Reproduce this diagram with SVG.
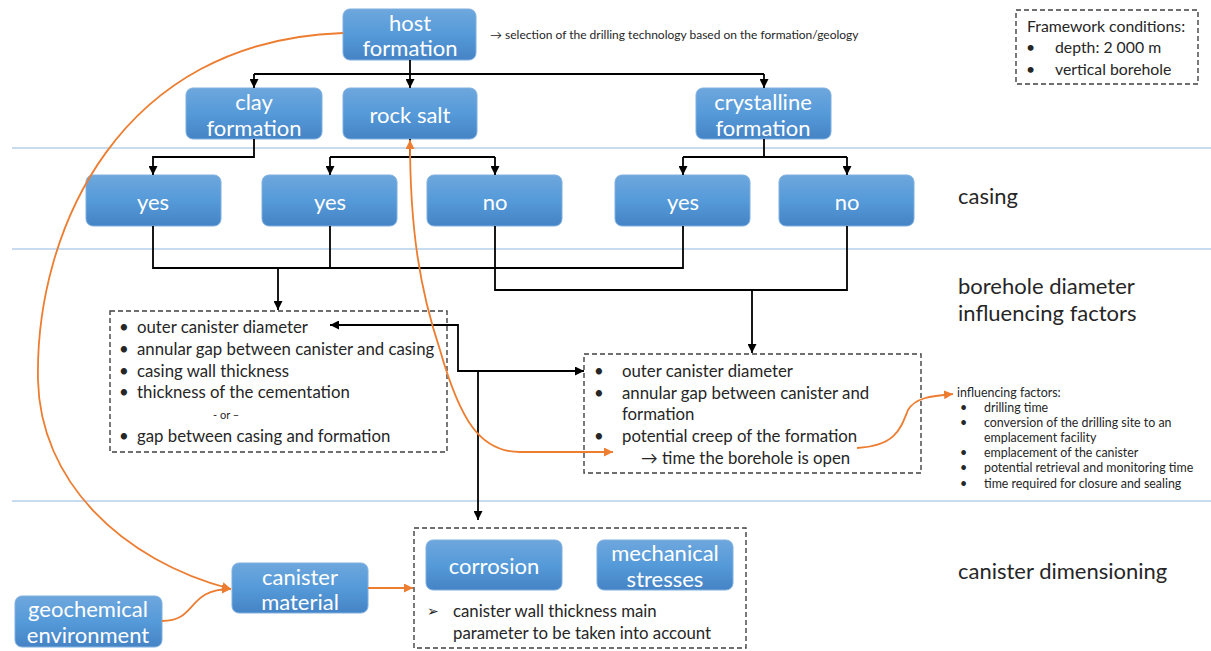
<svg xmlns="http://www.w3.org/2000/svg" width="1211" height="651" viewBox="0 0 1211 651">
<defs>
<linearGradient id="g" x1="0" y1="0" x2="0" y2="1">
<stop offset="0" stop-color="#6ea7dd"/>
<stop offset="0.5" stop-color="#559ad9"/>
<stop offset="1" stop-color="#4583c5"/>
</linearGradient>
<marker id="ab" viewBox="0 0 10 10" refX="10" refY="5" markerWidth="9" markerHeight="9" markerUnits="userSpaceOnUse" orient="auto-start-reverse"><path d="M0,0 L10,5 L0,10 z" fill="#000"/></marker>
<marker id="ao" viewBox="0 0 10 10" refX="10" refY="5" markerWidth="9" markerHeight="9" markerUnits="userSpaceOnUse" orient="auto-start-reverse"><path d="M0,0 L10,5 L0,10 z" fill="#ed7d31"/></marker>
</defs>
<style>
.n rect{fill:url(#g);stroke:#7fb0e0;stroke-width:1}
.n text{fill:#fff;font-family:Lato,"Liberation Sans",sans-serif;font-size:22px;text-anchor:middle;dominant-baseline:central}
.sep{stroke:#b7d0ea;stroke-width:1.3}
.c path{fill:none;stroke:#000;stroke-width:1.8}
.o path{fill:none;stroke:#ed7d31;stroke-width:1.8}
.d{fill:none;stroke:#404040;stroke-width:1.4;stroke-dasharray:5 3}
.t{font-family:Lato,"Liberation Sans",sans-serif;font-size:16.8px;fill:#262626;dominant-baseline:central}
.f{font-family:Lato,"Liberation Sans",sans-serif;font-size:15.8px;fill:#262626;dominant-baseline:central}
.s{font-family:Lato,"Liberation Sans",sans-serif;font-size:12.4px;fill:#262626;dominant-baseline:central}
.lab{font-family:Lato,"Liberation Sans",sans-serif;font-size:22px;fill:#262626;dominant-baseline:central}
</style>
<rect width="1211" height="651" fill="#fff"/>
<g id="separators">
<line class="sep" x1="12" y1="148" x2="1211" y2="148"/>
<line class="sep" x1="12" y1="249" x2="1211" y2="249"/>
<line class="sep" x1="12" y1="501" x2="1211" y2="501"/>
</g>
<g id="labels">
<text class="lab" x="958" y="195">casing</text>
<text class="lab" x="958" y="285">borehole diameter</text>
<text class="lab" x="958" y="312">influencing factors</text>
<text class="lab" x="958" y="570">canister dimensioning</text>
<text class="s" x="490" y="34" style="font-size:12px">→ selection of the drilling technology based on the formation/geology</text>
</g>
<g id="framework">
<rect class="d" x="1016" y="10" width="182" height="74"/>
<text class="f" x="1027" y="25">Framework conditions:</text>
<text class="f" x="1026" y="46">•</text>
<text class="f" x="1055" y="46">depth: 2 000 m</text>
<text class="f" x="1026" y="68">•</text>
<text class="f" x="1055" y="68">vertical borehole</text>
</g>
<g id="host" class="n"><rect x="343" y="9" width="133" height="51" rx="7"/><text x="410" y="22">host</text><text x="410" y="47">formation</text></g>
<g id="clay" class="n"><rect x="186" y="88" width="136" height="51" rx="7"/><text x="254" y="101">clay</text><text x="254" y="127">formation</text></g>
<g id="rocksalt" class="n"><rect x="343" y="88" width="134" height="51" rx="7"/><text x="410" y="114">rock salt</text></g>
<g id="crystalline" class="n"><rect x="696" y="88" width="135" height="51" rx="7"/><text x="763" y="101">crystalline</text><text x="763" y="127">formation</text></g>
<g id="yes1" class="n"><rect x="86" y="175" width="135" height="51" rx="7"/><text x="153" y="201">yes</text></g>
<g id="yes2" class="n"><rect x="262" y="175" width="135" height="51" rx="7"/><text x="330" y="201">yes</text></g>
<g id="no1" class="n"><rect x="427" y="175" width="135" height="51" rx="7"/><text x="495" y="201">no</text></g>
<g id="yes3" class="n"><rect x="615" y="175" width="135" height="51" rx="7"/><text x="683" y="201">yes</text></g>
<g id="no2" class="n"><rect x="779" y="175" width="135" height="51" rx="7"/><text x="847" y="201">no</text></g>
<g id="casingbox">
<rect class="d" x="110" y="311" width="337" height="141"/>
<text class="t" x="119" y="326">•</text><text class="t" x="137" y="326">outer canister diameter</text>
<text class="t" x="119" y="348">•</text><text class="t" x="137" y="348">annular gap between canister and casing</text>
<text class="t" x="119" y="370">•</text><text class="t" x="137" y="370">casing wall thickness</text>
<text class="t" x="119" y="391">•</text><text class="t" x="137" y="391">thickness of the cementation</text>
<text class="s" x="213" y="414" style="font-size:11px">- or –</text>
<text class="t" x="119" y="435">•</text><text class="t" x="137" y="435">gap between casing and formation</text>
</g>
<g id="nocasingbox">
<rect class="d" x="584" y="354" width="337" height="119"/>
<text class="t" x="594" y="370">•</text><text class="t" x="622" y="370">outer canister diameter</text>
<text class="t" x="594" y="392">•</text><text class="t" x="622" y="392">annular gap between canister and</text>
<text class="t" x="622" y="413">formation</text>
<text class="t" x="594" y="435">•</text><text class="t" x="622" y="435">potential creep of the formation</text>
<text class="t" x="641" y="457">→ time the borehole is open</text>
</g>
<g id="timefactors">
<text class="s" x="957" y="392">influencing factors:</text>
<text class="s" x="960" y="407">•</text><text class="s" x="984" y="407">drilling time</text>
<text class="s" x="960" y="422">•</text><text class="s" x="984" y="422">conversion of the drilling site to an</text>
<text class="s" x="984" y="437">emplacement facility</text>
<text class="s" x="960" y="452">•</text><text class="s" x="984" y="452">emplacement of the canister</text>
<text class="s" x="960" y="467">•</text><text class="s" x="984" y="467">potential retrieval and monitoring time</text>
<text class="s" x="960" y="483">•</text><text class="s" x="984" y="483">time required for closure and sealing</text>
</g>
<g id="dimbox">
<rect class="d" x="414" y="528" width="332" height="120"/>
<text class="t" x="427" y="610" style="font-size:14px">➢</text>
<text class="t" x="453" y="610">canister wall thickness main</text>
<text class="t" x="453" y="632">parameter to be taken into account</text>
</g>
<g id="corrosion" class="n"><rect x="426" y="540" width="136" height="50" rx="7"/><text x="494" y="565">corrosion</text></g>
<g id="mechanical" class="n"><rect x="597" y="540" width="136" height="50" rx="7"/><text x="665" y="552">mechanical</text><text x="665" y="578">stresses</text></g>
<g id="canistermaterial" class="n"><rect x="232" y="563" width="136" height="50" rx="7"/><text x="300" y="576">canister</text><text x="300" y="601">material</text></g>
<g id="geochemical" class="n"><rect x="15" y="596" width="147" height="51" rx="7"/><text x="88" y="608">geochemical</text><text x="88" y="634">environment</text></g>
<g id="connectors" class="c">
<path d="M410,60 V74"/>
<path d="M254,74 H764"/>
<path d="M254,74 V88" marker-end="url(#ab)"/>
<path d="M410,74 V88" marker-end="url(#ab)"/>
<path d="M764,74 V88" marker-end="url(#ab)"/>
<path d="M254,139 V157 H153 V175" marker-end="url(#ab)"/>
<path d="M410,139 V157"/>
<path d="M330,157 H495"/>
<path d="M330,157 V175" marker-end="url(#ab)"/>
<path d="M495,157 V175" marker-end="url(#ab)"/>
<path d="M764,139 V157"/>
<path d="M683,157 H847"/>
<path d="M683,157 V175" marker-end="url(#ab)"/>
<path d="M847,157 V175" marker-end="url(#ab)"/>
<path d="M153,226 V268 H683 V226"/>
<path d="M330,226 V268"/>
<path d="M278,268 V310" marker-end="url(#ab)"/>
<path d="M495,226 V290 H847 V226"/>
<path d="M752,290 V353" marker-end="url(#ab)"/>
<path d="M478,371 H458 V325 H330" marker-end="url(#ab)"/>
<path d="M478,371 H584" marker-end="url(#ab)"/>
<path d="M478,371 V520" marker-end="url(#ab)"/>
</g>
<g id="orange-connectors" class="o">
<path d="M343,33 C120,40 35,230 38,380 C40,480 120,560 231,589" marker-end="url(#ao)"/>
<path d="M162,621 C198,621 186,589 231,589" marker-end="url(#ao)"/>
<path d="M368,588 H413" marker-end="url(#ao)"/>
<path d="M410,140 C410,230 420,290 440,350 C460,420 480,452 520,452 L613,452" marker-start="url(#ao)" marker-end="url(#ao)"/>
<path d="M857,448 C895,446 900,430 908,410 C915,398 930,396 953,394" marker-end="url(#ao)"/>
</g>
</svg>
